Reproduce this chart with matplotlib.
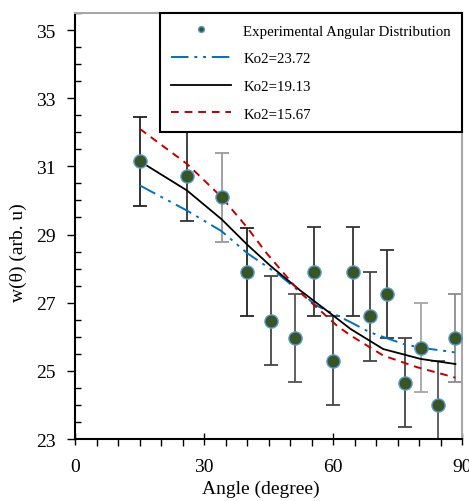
import matplotlib
matplotlib.use("Agg")
import matplotlib.pyplot as plt
from matplotlib.ticker import MultipleLocator

plt.rcParams['font.family'] = ['Liberation Serif', 'DejaVu Serif']

# measured angular distribution
angle = [15, 26, 34, 40, 45.5, 51, 55.5, 60, 64.5, 68.5, 72.6, 76.7, 80.3, 84.3, 88.4]
w_exp = [31.15, 30.71, 30.09, 27.9, 26.47, 25.96, 27.91, 25.3, 27.91, 26.6, 27.26, 24.65, 25.68, 24.0, 25.96]
w_err = [1.3, 1.3, 1.3, 1.3, 1.3, 1.3, 1.3, 1.3, 1.3, 1.3, 1.3, 1.3, 1.3, 1.3, 1.3]
err_colors = ['#222222', '#333333', '#9a9a9a', '#222222', '#444444', '#555555', '#333333', '#444444',
              '#333333', '#444444', '#333333', '#444444', '#a6a6a6', '#555555', '#8c8c8c']

# fitted curves
ko_23_x = [15, 26, 34, 40, 47.6, 56, 61.6, 64, 68.5, 76.3, 80.3, 88.4]
ko_23_y = [30.44, 29.7, 29.1, 28.45, 27.8, 26.92, 26.58, 26.43, 26.13, 25.79, 25.68, 25.54]

ko_19_x = [15, 26, 34, 40, 45.3, 52.3, 60, 64, 71.6, 76.7, 80.3, 88.4]
ko_19_y = [31.15, 30.29, 29.45, 28.7, 28.09, 27.36, 26.62, 26.23, 25.64, 25.47, 25.35, 25.2]

ko_15_x = [15, 26, 34, 40, 44.5, 52.3, 60.8, 64, 71.6, 79.4, 88.4]
ko_15_y = [32.1, 31.07, 30.1, 29.2, 28.45, 27.3, 26.33, 26.04, 25.45, 25.11, 24.8]

y_ticks = [23, 25, 27, 29, 31, 33, 35]

fig = plt.figure(figsize=(4.69, 5.02), dpi=100)
ax = fig.add_axes([0.1606, 0.1235, 0.8251, 0.8486])

for a, w, e, c in zip(angle, w_exp, w_err, err_colors):
    ax.errorbar(a, w, yerr=e, fmt='none', ecolor=c, elinewidth=1.3, capsize=5, capthick=1.3, zorder=2)

ax.plot(ko_23_x, ko_23_y, color='#0070c0', lw=1.4, dashes=(9, 3, 1.5, 3, 1.5, 3),
        label='Ko2=23.72', zorder=3)
ax.plot(ko_19_x, ko_19_y, color='black', lw=1.3, label='Ko2=19.13', zorder=3)
ax.plot(ko_15_x, ko_15_y, color='#c00000', lw=1.4, dashes=(4, 3), label='Ko2=15.67', zorder=3)
ax.plot(angle, w_exp, 'o', ms=9.5, mfc='#375623', mec='#5b9bd5', mew=1.0, ls='none',
        label='Experimental Angular Distribution', zorder=4)

ax.set_xlim(0, 90)
ax.set_ylim(23, 35.5)
ax.xaxis.set_major_locator(MultipleLocator(30))
ax.xaxis.set_minor_locator(MultipleLocator(5))
ax.set_yticks(y_ticks)
ax.yaxis.set_minor_locator(MultipleLocator(0.5))
ax.tick_params(axis='x', which='major', direction='inout', length=9, width=1, labelsize=14, pad=9)
ax.tick_params(axis='x', which='minor', direction='out', length=5, width=1)
ax.tick_params(axis='y', which='major', direction='out', length=6, width=1, labelsize=14, pad=8)
ax.tick_params(axis='y', which='minor', direction='in', length=4, width=1)

for side in ['left', 'bottom']:
    ax.spines[side].set_linewidth(1.5)
    ax.spines[side].set_color('black')
for side in ['top', 'right']:
    ax.spines[side].set_linewidth(1.5)
    ax.spines[side].set_color('#a6a6a6')

ax.set_xlabel('Angle (degree)', fontsize=14)
ax.set_ylabel('w(θ) (arb. u)', fontsize=14)
ax.xaxis.set_label_coords(0.48, -0.095)
ax.yaxis.set_label_coords(-0.125, 0.44)

handles, labels = ax.get_legend_handles_labels()
order = [3, 0, 1, 2]
leg = ax.legend([handles[i] for i in order], [labels[i] for i in order],
                loc='upper right', bbox_to_anchor=(1, 1), borderaxespad=0,
                fontsize=10.75, handlelength=4.0, handletextpad=0.85, labelspacing=0.95,
                borderpad=0.75, markerscale=0.45, fancybox=False, framealpha=1)
leg.get_frame().set_edgecolor('black')
leg.get_frame().set_linewidth(1.5)
leg.set_zorder(5)

fig.savefig('out.png', dpi=100)
